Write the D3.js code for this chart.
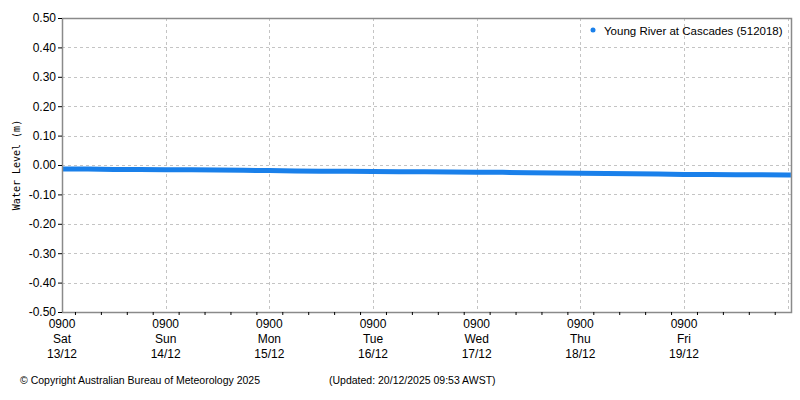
<!DOCTYPE html>
<html>
<head>
<meta charset="utf-8">
<script src="https://cdn.jsdelivr.net/npm/d3@7"></script>
<style>
  body { margin: 0; background: #fff; }
  svg text { font-family: "Liberation Sans", Arial, sans-serif; }
</style>
</head>
<body>
<div id="chart"></div>
<script>
// readings every 6 hours from 13/12 09:00, last one at 20/12 09:45
const readingTimes = [
  "2025-12-13T09:00", "2025-12-13T15:00", "2025-12-13T21:00", "2025-12-14T03:00",
  "2025-12-14T09:00", "2025-12-14T15:00", "2025-12-14T21:00", "2025-12-15T03:00",
  "2025-12-15T09:00", "2025-12-15T15:00", "2025-12-15T21:00", "2025-12-16T03:00",
  "2025-12-16T09:00", "2025-12-16T15:00", "2025-12-16T21:00", "2025-12-17T03:00",
  "2025-12-17T09:00", "2025-12-17T15:00", "2025-12-17T21:00", "2025-12-18T03:00",
  "2025-12-18T09:00", "2025-12-18T15:00", "2025-12-18T21:00", "2025-12-19T03:00",
  "2025-12-19T09:00", "2025-12-19T15:00", "2025-12-19T21:00", "2025-12-20T03:00",
  "2025-12-20T09:00", "2025-12-20T09:45"
];
const waterLevel = [
  -0.014, -0.014, -0.015, -0.015,
  -0.016, -0.016, -0.017, -0.018,
  -0.019, -0.020, -0.021, -0.021,
  -0.022, -0.023, -0.023, -0.024,
  -0.025, -0.025, -0.026, -0.027,
  -0.028, -0.029, -0.030, -0.031,
  -0.032, -0.032, -0.033, -0.033,
  -0.034, -0.034
];
const dayTicks = ["2025-12-13T09:00", "2025-12-14T09:00", "2025-12-15T09:00", "2025-12-16T09:00",
                  "2025-12-17T09:00", "2025-12-18T09:00", "2025-12-19T09:00", "2025-12-20T09:00"];
const dayNames = ["Sat", "Sun", "Mon", "Tue", "Wed", "Thu", "Fri", ""];
const dayDates = ["13/12", "14/12", "15/12", "16/12", "17/12", "18/12", "19/12", ""];
const yTicks = [0.5, 0.4, 0.3, 0.2, 0.1, 0, -0.1, -0.2, -0.3, -0.4, -0.5];
const seriesName = "Young River at Cascades (512018)";

const width = 800;
const height = 400;
const margin = { left: 62, right: 8, top: 18, bottom: 88 };

const parse = d3.timeParse("%Y-%m-%dT%H:%M");
const data = readingTimes.map((t, i) => ({ t: parse(t), v: waterLevel[i] }));
const ticks = dayTicks.map(parse);

let svg = d3.select("#chart").append("svg")
    .attr("width", width)
    .attr("height", height);

let xScale = d3.scaleTime()
    .domain([parse("2025-12-13T09:00"), parse("2025-12-20T10:00")])
    .range([margin.left, width - margin.right]);

let yScale = d3.scaleLinear()
    .domain([-0.5, 0.5])
    .range([height - margin.bottom, margin.top]);

// grid
let grid = svg.append("g").attr("stroke", "#c4c4c4").attr("stroke-dasharray", "3,3");
grid.selectAll(".hg").data(yTicks).enter().append("line")
    .attr("x1", margin.left).attr("x2", width - margin.right)
    .attr("y1", d => Math.round(yScale(d)) + 0.5).attr("y2", d => Math.round(yScale(d)) + 0.5);
grid.selectAll(".vg").data(ticks.slice(1)).enter().append("line")
    .attr("x1", d => Math.round(xScale(d)) + 0.5).attr("x2", d => Math.round(xScale(d)) + 0.5)
    .attr("y1", margin.top).attr("y2", height - margin.bottom);

// series
let line = d3.line()
    .x(d => xScale(d.t))
    .y(d => yScale(d.v));

svg.append("path")
    .datum(data)
    .attr("fill", "none")
    .attr("stroke", "#1a80ea")
    .attr("stroke-width", 5)
    .attr("stroke-linecap", "butt")
    .attr("d", line);

// frame
svg.append("rect")
    .attr("x", margin.left + 0.5).attr("y", margin.top + 0.5)
    .attr("width", width - margin.left - margin.right - 1)
    .attr("height", height - margin.top - margin.bottom)
    .attr("fill", "none")
    .attr("stroke", "#8a8a8a")
    .attr("stroke-width", 1.5);

// y axis
let yAxis = svg.append("g")
    .attr("transform", `translate(${margin.left},0)`)
    .call(d3.axisLeft(yScale).tickValues(yTicks).tickSize(4).tickPadding(2).tickFormat(d3.format(".2f")));
yAxis.select(".domain").remove();
yAxis.selectAll(".tick line").attr("stroke", "#000");
yAxis.selectAll("text").style("font-size", "12px").attr("fill", "#000")
    .text(d => d3.format(".2f")(d).replace("−", "-"));

// x axis, minor ticks every 6 hours
let xAxis = svg.append("g")
    .attr("transform", `translate(0,${height - margin.bottom})`)
    .call(d3.axisBottom(xScale).ticks(d3.timeHour.every(6)).tickSize(3).tickFormat(""));
xAxis.select(".domain").remove();
xAxis.selectAll(".tick line").attr("stroke", "#000");

let xLabels = svg.append("g").selectAll("g")
    .data(ticks.slice(0, 7))
    .enter().append("text")
    .attr("text-anchor", "middle")
    .attr("fill", "#000")
    .style("font-size", "12px")
    .attr("x", d => xScale(d))
    .attr("y", height - margin.bottom + 16);
xLabels.append("tspan").attr("x", d => xScale(d)).text("0900");
xLabels.append("tspan").attr("x", d => xScale(d)).attr("dy", 15).text((d, i) => dayNames[i]);
xLabels.append("tspan").attr("x", d => xScale(d)).attr("dy", 15).text((d, i) => dayDates[i]);

// y title
svg.append("text")
    .attr("transform", `translate(20, ${(margin.top + height - margin.bottom) / 2}) rotate(-90)`)
    .attr("text-anchor", "middle")
    .style("font-family", "'DejaVu Sans Mono', monospace")
    .style("font-size", "10px")
    .attr("fill", "#000")
    .text("Water Level (m)");

// legend
svg.append("circle")
    .attr("cx", 593).attr("cy", 30).attr("r", 2.5)
    .attr("fill", "#1a80ea");
svg.append("text")
    .attr("x", 604).attr("y", 35)
    .style("font-size", "11.5px")
    .attr("fill", "#000")
    .text(seriesName);

// footer
svg.append("text")
    .attr("x", 20).attr("y", 384)
    .style("font-size", "10.5px")
    .attr("fill", "#000")
    .text("\u00A9 Copyright Australian Bureau of Meteorology 2025");
svg.append("text")
    .attr("x", 329).attr("y", 384)
    .style("font-size", "10.5px")
    .attr("fill", "#000")
    .text("(Updated: 20/12/2025 09:53 AWST)");
</script>
</body>
</html>
